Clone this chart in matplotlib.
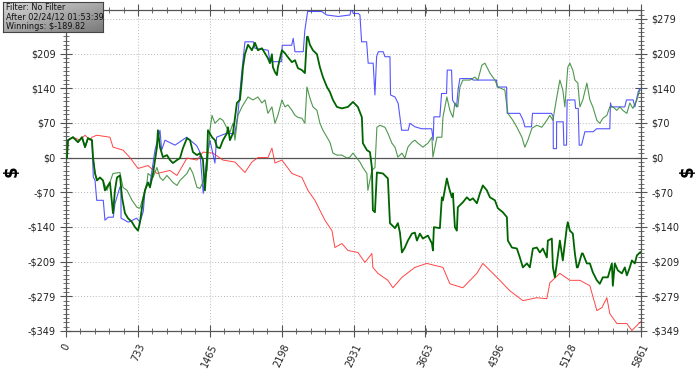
import numpy as np
import matplotlib
matplotlib.use("Agg")
import matplotlib.pyplot as plt
from matplotlib.ticker import FixedLocator, AutoMinorLocator

# ---------------- data (hand number, dollars) ----------------
red_x = [0, 20, 71, 143, 194, 245, 265, 313, 448, 479, 581, 652, 734, 836, 927, 1060, 1131,
         1233, 1335, 1396, 1498, 1600, 1722, 1824, 1895, 1956, 2058, 2099, 2130, 2201, 2303,
         2405, 2466, 2537, 2639, 2711, 2741, 2812, 2874, 2976, 3047, 3118, 3128, 3179, 3281,
         3332, 3424, 3556, 3678, 3842, 3913, 4045, 4188, 4249, 4392, 4524, 4657, 4799, 4901,
         4932, 5034, 5136, 5238, 5340, 5411, 5462, 5513, 5543, 5615, 5717, 5768, 5849, 5861]
red_y = [0, 35, 41, 35, 45, 35, 41, 45, 41, 21, 15, 0, -22, -16, -32, -26, -36,
         -1, -5, 11, 9, -5, -9, -30, -9, 0, 0, 19, -11, -5, -32,
         -40, -66, -86, -126, -147, -181, -173, -187, -191, -211, -193, -221, -233, -247,
         -262, -241, -221, -213, -221, -254, -262, -233, -213, -241, -268, -288, -282, -284,
         -252, -233, -247, -247, -258, -308, -302, -282, -314, -334, -334, -348, -332, -330]

dark_x = [0, 10, 20, 71, 122, 163, 194, 224, 265, 275, 296, 316, 346, 377, 397, 448, 479, 499,
          520, 550, 571, 601, 632, 673, 703, 734, 754, 785, 805, 836, 856, 887, 927, 937, 958,
          988, 1029, 1060, 1090, 1131, 1162, 1192, 1233, 1264, 1294, 1335, 1365, 1396, 1416,
          1437, 1447, 1488, 1518, 1539, 1569, 1600, 1641, 1651, 1671, 1702, 1742, 1773, 1793,
          1804, 1824, 1855, 1895, 1926, 1956, 1997, 2028, 2058, 2079, 2099, 2109, 2130, 2150,
          2160, 2201, 2232, 2262, 2303, 2334, 2364, 2405, 2435, 2456, 2466, 2486, 2517, 2558,
          2588, 2619, 2660, 2690, 2721, 2761, 2812, 2874, 2925, 2975, 3016, 3026, 3067, 3098,
          3118, 3128, 3149, 3169, 3230, 3281, 3302, 3353, 3383, 3404, 3424, 3454, 3485, 3526,
          3556, 3577, 3607, 3638, 3689, 3730, 3740, 3750, 3811, 3831, 3842, 3882, 3903, 3933,
          3944, 3964, 3984, 3994, 4045, 4086, 4117, 4147, 4188, 4219, 4249, 4290, 4321, 4372,
          4402, 4453, 4494, 4504, 4545, 4596, 4626, 4657, 4698, 4728, 4759, 4799, 4830, 4861,
          4901, 4912, 4952, 4963, 4983, 5003, 5034, 5064, 5105, 5115, 5136, 5166, 5187, 5207,
          5217, 5258, 5268, 5309, 5340, 5370, 5411, 5441, 5472, 5523, 5564, 5574, 5594, 5625,
          5666, 5696, 5717, 5747, 5768, 5798, 5819, 5849, 5861]
dark_y = [0, 0, 35, 41, 31, 41, 21, 39, 35, 1, -32, -46, -40, -46, -66, -50, -112, -66,
          -40, -36, -80, -112, -122, -130, -140, -147, -130, -86, -66, -50, -60, -32, 21, 55, 21,
          1, 5, -5, -11, -5, -1, 19, 39, 35, 11, 5, 9, -5, -66,
          -5, 55, 41, 35, 21, 19, 35, 49, 61, 35, 49, 110, 116, 156,
          182, 208, 227, 216, 231, 216, 220, 210, 200, 190, 208, 182, 172, 166,
          182, 216, 210, 202, 192, 196, 180, 176, 170, 243, 243, 227, 216, 208,
          182, 162, 142, 132, 116, 102, 99, 102, 112, 102, 81, 29, 15, 11,
          -20, -106, -110, -30, -32, -42, -132, -142, -132, -151, -191, -181, -167, -153,
          -151, -167, -153, -163, -157, -173, -187, -140, -142, -80, -86, -42, -60, -80,
          -72, -140, -147, -100, -90, -80, -86, -82, -92, -72, -56, -66, -80, -86,
          -102, -110, -120, -167, -181, -183, -201, -221, -213, -221, -183, -181, -191, -183,
          -201, -167, -163, -221, -241, -213, -167, -207, -140, -130, -147, -153, -193, -221,
          -221, -193, -193, -213, -213, -231, -247, -254, -241, -241, -213, -258, -213, -227,
          -233, -221, -237, -221, -207, -213, -197, -191, -190]

light_x = [0, 10, 20, 71, 122, 163, 194, 224, 265, 275, 296, 316, 346, 377, 418, 479, 550, 581,
           622, 673, 723, 754, 785, 825, 836, 887, 927, 958, 988, 1029, 1090, 1131, 1162, 1233,
           1264, 1294, 1335, 1365, 1396, 1437, 1467, 1488, 1518, 1569, 1600, 1641, 1671, 1702,
           1722, 1753, 1793, 1855, 1906, 1956, 1997, 2028, 2058, 2099, 2130, 2160, 2201, 2232,
           2262, 2303, 2334, 2364, 2405, 2435, 2456, 2486, 2517, 2558, 2588, 2619, 2660, 2690,
           2721, 2761, 2812, 2863, 2894, 2925, 2965, 2996, 3026, 3067, 3077, 3118, 3149, 3169,
           3200, 3251, 3281, 3322, 3353, 3383, 3424, 3454, 3485, 3526, 3556, 3587, 3638, 3689,
           3730, 3740, 3781, 3831, 3842, 3882, 3913, 3944, 3964, 3994, 4015, 4045, 4117, 4168,
           4198, 4239, 4270, 4321, 4372, 4402, 4473, 4504, 4555, 4596, 4647, 4677, 4708, 4749,
           4799, 4850, 4901, 4932, 4963, 5003, 5034, 5064, 5085, 5115, 5136, 5166, 5187, 5217,
           5238, 5268, 5309, 5340, 5370, 5411, 5441, 5472, 5513, 5543, 5574, 5615, 5645, 5676,
           5717, 5747, 5778, 5819, 5849, 5861]
light_y = [0, 0, 35, 41, 31, 41, 21, 39, 35, 1, -32, -46, -40, -46, -66, -32, -30, -60,
           -66, -86, -100, -102, -80, -50, -32, -40, -20, -40, -46, -36, -50, -56, -46, -32,
           -20, -32, -60, -62, -50, -26, 55, 85, 69, 79, 75, 59, 51, 69,
           35, 85, 102, 122, 116, 122, 110, 116, 89, 102, 69, 85, 116, 102,
           106, 95, 85, 81, 79, 69, 142, 120, 102, 95, 69, 55, 41, 31,
           9, 5, 5, -1, 1, 9, -1, -9, -20, -32, -66, -26, -20, 61,
           65, 61, 49, 29, 21, 1, 9, -1, 21, 31, 35, 29, 21, 29,
           41, 1, 41, 41, 81, 122, 95, 81, 110, 102, 142, 156, 156, 162,
           156, 186, 190, 170, 156, 142, 136, 89, 75, 61, 41, 21, 35, 59,
           65, 61, 75, 85, 75, 122, 156, 136, 102, 182, 190, 176, 156, 150,
           102, 116, 150, 116, 102, 75, 69, 79, 85, 102, 102, 95, 102, 95,
           89, 110, 99, 116, 136, 136]

blue_x = [0, 10, 20, 71, 122, 163, 194, 224, 265, 278, 296, 313, 380, 397, 431, 482, 499, 550,
          560, 561, 635, 720, 754, 788, 805, 822, 856, 907, 958, 975, 1009, 1111, 1230, 1332,
          1365, 1399, 1433, 1467, 1518, 1535, 1636, 1722, 1756, 1790, 1824, 1909, 1926, 2061,
          2079, 2198, 2204, 2300, 2316, 2334, 2418, 2435, 2463, 2606, 2656, 2775, 2894, 2911,
          2928, 2979, 2996, 3013, 3064, 3080, 3131, 3149, 3166, 3183, 3233, 3251, 3302, 3308,
          3353, 3386, 3421, 3488, 3505, 3556, 3625, 3727, 3743, 3750, 3811, 3828, 3879, 3886,
          3930, 3940, 3981, 3998, 4015, 4134, 4150, 4388, 4395, 4491, 4497, 4626, 4660, 4677,
          4745, 4755, 4949, 4966, 4967, 5000, 5001, 5068, 5075, 5102, 5108, 5187, 5194, 5221,
          5231, 5255, 5289, 5299, 5374, 5408, 5543, 5550, 5560, 5577, 5696, 5713, 5781, 5798,
          5832, 5849, 5861]
blue_y = [0, 0, 35, 41, 31, 41, 21, 39, 35, -39, -46, -86, -86, -126, -120, -120, -93, -59,
          -60, -122, -130, -122, -130, -108, -66, -56, -53, 15, 55, 15, 35, 25, 41, 24,
          11, -72, -5, 35, -11, 41, 49, 48, 95, 169, 233, 233, 220, 216,
          193, 193, 226, 226, 240, 213, 213, 257, 294, 294, 287, 284, 287, 300,
          290, 290, 287, 233, 233, 190, 190, 126, 203, 213, 213, 203, 203, 126,
          122, 109, 55, 55, 69, 62, 58, 58, 35, 82, 82, 129, 129, 176,
          176, 116, 102, 139, 159, 159, 156, 156, 142, 142, 89, 89, 75, 62,
          62, 89, 89, 82, 18, 18, 72, 72, 25, 25, 116, 116, 99, 99,
          25, 25, 52, 52, 52, 58, 58, 110, 102, 102, 102, 116, 116, 102,
          132, 139, 139]

x_ticks = [0, 733, 1465, 2198, 2931, 3663, 4396, 5128, 5861]
y_ticks = [-349, -279.2, -209.4, -139.6, -69.8, 0, 69.8, 139.6, 209.4, 279.2]
y_labels = ["-$349", "-$279", "-$209", "-$140", "-$70", "$0", "$70", "$140", "$209", "$279"]
info_lines = ["Filter: No Filter", "After 02/24/12 01:53:39", "Winnings: $-189.82"]

# ---------------- figure ----------------
fig = plt.figure(figsize=(7.0, 3.69), dpi=100, facecolor="white")
ax = fig.add_axes([66 / 700, 1 - 331 / 369, 575 / 700, 321 / 369])
ax.set_facecolor("white")

ax.plot(red_x, red_y, color="#ff3030", lw=0.7, alpha=0.9, zorder=3)
ax.plot(blue_x, blue_y, color="#3838ff", lw=0.8, alpha=0.85, zorder=4)
ax.plot(light_x, light_y, color="#3c8c3c", lw=0.8, alpha=0.9, zorder=5)
ax.plot(dark_x, dark_y, color="#006400", lw=1.3, zorder=6)

ax.axhline(0, color="#555555", lw=0.9, zorder=2)

ax.set_xlim(0, 5861)
ax.set_ylim(-349, 297)

ax.xaxis.set_major_locator(FixedLocator(x_ticks))
ax.xaxis.set_minor_locator(AutoMinorLocator(5))
ax.yaxis.set_major_locator(FixedLocator(y_ticks))
ax.yaxis.set_minor_locator(AutoMinorLocator(8))

ax.grid(True, which="major", linestyle=(0, (1, 2)), color="#b8b8b8", lw=0.7, zorder=1)

for s in ax.spines.values():
    s.set_color("#555555")
    s.set_linewidth(0.9)

ax.tick_params(axis="both", which="major", direction="inout", length=8, width=0.8,
               color="#555555", labelsize=7, labelcolor="#222222")
ax.tick_params(axis="both", which="minor", direction="inout", length=5, width=0.6,
               color="#555555")
ax.tick_params(axis="x", which="both", top=True, bottom=True)
ax.tick_params(axis="y", which="both", left=True, right=True, labelleft=True, labelright=True)
ax.tick_params(axis="x", which="major", pad=4)

ax.set_xticks(x_ticks)
ax.set_xticklabels([str(v) for v in x_ticks], rotation=65, ha="center", va="top")
ax.set_yticks(y_ticks)
ax.set_yticklabels(y_labels)
# the top-left label sits under the info box in the reference
ax.yaxis.get_major_ticks()[-1].label1.set_visible(False)

fig.text(12 / 700, 1 - 171 / 369, "$", fontsize=12, fontweight="bold",
         rotation=90, ha="center", va="center")
fig.text(688 / 700, 1 - 171 / 369, "$", fontsize=12, fontweight="bold",
         rotation=90, ha="center", va="center")

# ---------------- info box ----------------
bax = fig.add_axes([3 / 700, 1 - 32 / 369, 100 / 700, 30 / 369])
grad = np.linspace(0, 1, 64).reshape(1, -1) * 0.5 + np.linspace(0, 1, 32).reshape(-1, 1) * 0.5
bax.imshow(grad, cmap=matplotlib.colors.LinearSegmentedColormap.from_list(
    "g", ["#d8d8d8", "#7a7a7a"]), aspect="auto", extent=[0, 1, 0, 1], origin="upper")
bax.set_xlim(0, 1)
bax.set_ylim(0, 1)
bax.set_xticks([])
bax.set_yticks([])
for s in bax.spines.values():
    s.set_color("#444444")
    s.set_linewidth(0.8)
for i, t in enumerate(info_lines):
    bax.text(0.03, 0.83 - i * 0.33, t, fontsize=5.9, color="#111111",
             va="center", ha="left", family="DejaVu Sans")

fig.savefig("out.png", dpi=100, facecolor="white")
